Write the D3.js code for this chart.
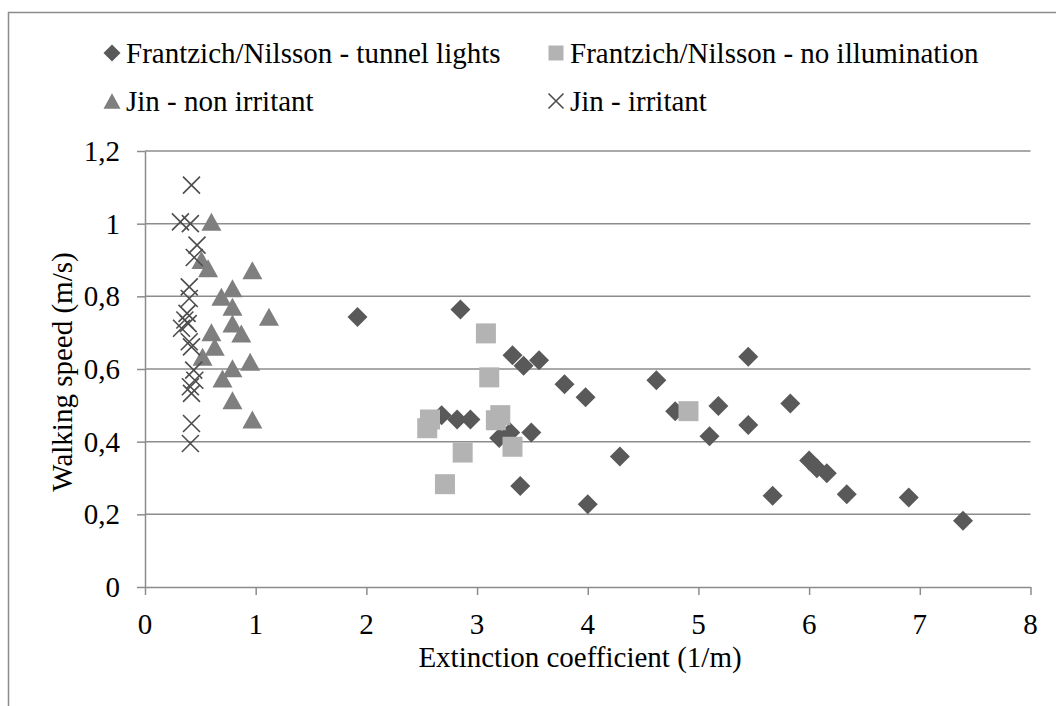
<!DOCTYPE html>
<html>
<head>
<meta charset="utf-8">
<script src="https://cdn.jsdelivr.net/npm/d3@7"></script>
<style>
  body { margin: 0; background: #fff; }
  #wrap { position: relative; width: 1056px; height: 706px; }
  #wrap svg { position: absolute; left: 0; top: 0; }
  .lbl {
    position: absolute;
    font-family: "Liberation Serif", "Times New Roman", Tinos, Times;
    font-size: 29px;
    line-height: 1;
    color: #000;
    white-space: nowrap;
  }
</style>
</head>
<body>
<div id="wrap">
  <svg id="plot" width="1056" height="706"></svg>
</div>
<script>
// values
const seriesNames = [
  'Frantzich/Nilsson - tunnel lights',
  'Frantzich/Nilsson - no illumination',
  'Jin - non irritant',
  'Jin - irritant'
]

const tunnelLights = [
  [1.92, 0.743], [2.68, 0.473], [2.82, 0.461], [2.85, 0.764], [2.94, 0.461],
  [3.2, 0.41], [3.3, 0.425], [3.32, 0.638], [3.39, 0.278], [3.42, 0.609],
  [3.49, 0.425], [3.56, 0.624], [3.79, 0.558], [3.98, 0.522], [4.0, 0.228],
  [4.29, 0.359], [4.62, 0.569], [4.79, 0.484], [5.1, 0.415], [5.18, 0.498],
  [5.45, 0.634], [5.45, 0.446], [5.67, 0.251], [5.83, 0.505], [6.0, 0.348],
  [6.07, 0.327], [6.16, 0.313], [6.34, 0.255], [6.9, 0.246], [7.39, 0.182]
]

const noIllumination = [
  [2.55, 0.437], [2.575, 0.461], [2.71, 0.283], [2.87, 0.37], [3.08, 0.698],
  [3.11, 0.577], [3.17, 0.459], [3.21, 0.473], [3.32, 0.386], [4.91, 0.484]
]

const nonIrritant = [
  [0.6, 1.005], [0.51, 0.9], [0.57, 0.877], [0.97, 0.872], [0.79, 0.822],
  [0.69, 0.799], [0.79, 0.771], [1.12, 0.744], [0.79, 0.725], [0.87, 0.698],
  [0.6, 0.701], [0.63, 0.661], [0.52, 0.634], [0.95, 0.62], [0.79, 0.602],
  [0.7, 0.574], [0.79, 0.514], [0.97, 0.461]
]

const irritant = [
  [0.42, 1.106], [0.32, 1.005], [0.41, 1.0], [0.47, 0.941], [0.445, 0.907],
  [0.4, 0.826], [0.4, 0.794], [0.38, 0.753], [0.36, 0.735], [0.39, 0.725],
  [0.33, 0.712], [0.4, 0.675], [0.42, 0.661], [0.44, 0.597], [0.45, 0.569],
  [0.41, 0.551], [0.42, 0.533], [0.42, 0.45], [0.41, 0.395]
]

const xTicks = [0, 1, 2, 3, 4, 5, 6, 7, 8]
const yTicks = [0, 0.2, 0.4, 0.6, 0.8, 1, 1.2]
const yTickLabels = ['0', '0,2', '0,4', '0,6', '0,8', '1', '1,2']

// marker shapes, size = full width in px
const diamond = {
  draw(ctx, w) {
    const r = w / 2
    ctx.moveTo(0, -r); ctx.lineTo(r, 0); ctx.lineTo(0, r); ctx.lineTo(-r, 0); ctx.closePath()
  }
}
const square = {
  draw(ctx, w) { ctx.rect(-w / 2, -w / 2, w, w) }
}
const triangle = {
  draw(ctx, w) {
    const h = w * 0.9
    ctx.moveTo(0, -h / 2); ctx.lineTo(w / 2, h / 2); ctx.lineTo(-w / 2, h / 2); ctx.closePath()
  }
}
const cross = {
  draw(ctx, w) {
    const r = w / 2
    ctx.moveTo(-r, -r); ctx.lineTo(r, r); ctx.moveTo(r, -r); ctx.lineTo(-r, r)
  }
}

const series = [
  { name: seriesNames[0], data: tunnelLights, type: diamond, size: 20, legendSize: 17, fill: '#595959', stroke: 'none' },
  { name: seriesNames[1], data: noIllumination, type: square, size: 20, legendSize: 15, fill: '#b3b3b3', stroke: 'none' },
  { name: seriesNames[2], data: nonIrritant, type: triangle, size: 20, legendSize: 17, fill: '#7f7f7f', stroke: 'none' },
  { name: seriesNames[3], data: irritant, type: cross, size: 17, legendSize: 15, fill: 'none', stroke: '#4d4d4d' }
]

const wrap = d3.select('#wrap')
const svg = d3.select('#plot')

const x = d3.scaleLinear().domain([0, 8]).range([145, 1030.5])
const y = d3.scaleLinear().domain([0, 1.2]).range([587, 151])

// html label; ax/ay = anchor fractions of the box
function label(text, left, top, ax, ay, rotate) {
  const div = wrap.append('div')
    .attr('class', 'lbl')
    .text(text)
    .style('left', left + 'px')
    .style('top', top + 'px')
  const tf = `translate(${-ax * 100}%, ${-ay * 100}%)` + (rotate ? ` rotate(${rotate}deg)` : '')
  div.style('transform', tf)
  return div
}

// chart frame (cut off at the right and bottom)
svg.append('rect')
  .attr('x', 8.5).attr('y', 12.5)
  .attr('width', 1200).attr('height', 900)
  .attr('fill', 'none')
  .attr('stroke', '#8c8c8c')
  .attr('stroke-width', 1.5)

// gridlines
svg.append('g')
  .selectAll('line')
  .data(yTicks.filter(d => d > 0))
  .enter()
  .append('line')
  .attr('x1', x(0)).attr('x2', x(8))
  .attr('y1', d => y(d)).attr('y2', d => y(d))
  .attr('stroke', '#8c8c8c')
  .attr('stroke-width', 1.5)

// axes: lines and ticks from d3, labels as html text
const xAxis = d3.axisBottom(x)
  .tickValues(xTicks)
  .tickSize(8)
  .tickSizeOuter(0)
  .tickFormat('')

const yAxis = d3.axisLeft(y)
  .tickValues(yTicks)
  .tickSize(8)
  .tickSizeOuter(0)
  .tickFormat('')

const gx = svg.append('g')
  .attr('transform', `translate(0, ${y(0)})`)
  .call(xAxis)

const gy = svg.append('g')
  .attr('transform', `translate(${x(0)}, 0)`)
  .call(yAxis)

;[gx, gy].forEach(g => {
  g.selectAll('path, line').attr('stroke', '#8c8c8c').attr('stroke-width', 1.5)
})

xTicks.forEach(d => label(String(d), x(d), 624, 0.5, 0.5))
yTicks.forEach((d, i) => label(yTickLabels[i], 120, y(d), 1, 0.5))

// points
series.forEach(s => {
  svg.append('g')
    .selectAll('path')
    .data(s.data)
    .enter()
    .append('path')
    .attr('d', d3.symbol().type(s.type).size(s.size))
    .attr('transform', d => `translate(${x(d[0])}, ${y(d[1])})`)
    .attr('fill', s.fill)
    .attr('stroke', s.stroke)
    .attr('stroke-width', 1.6)
})

// legend
const legendPos = [[112, 53], [556, 53], [112, 101], [556, 101]]
series.forEach((s, i) => {
  const [lx, ly] = legendPos[i]
  svg.append('path')
    .attr('d', d3.symbol().type(s.type).size(s.legendSize))
    .attr('transform', `translate(${lx}, ${ly})`)
    .attr('fill', s.fill)
    .attr('stroke', s.stroke)
    .attr('stroke-width', 1.6)
  label(s.name, lx + 14, ly, 0, 0.5)
})

// axis titles
label('Extinction coefficient (1/m)', 580, 657, 0.5, 0.5)
label('Walking speed (m/s)', 62, 372, 0.5, 0.5, -90)
</script>
</body>
</html>
